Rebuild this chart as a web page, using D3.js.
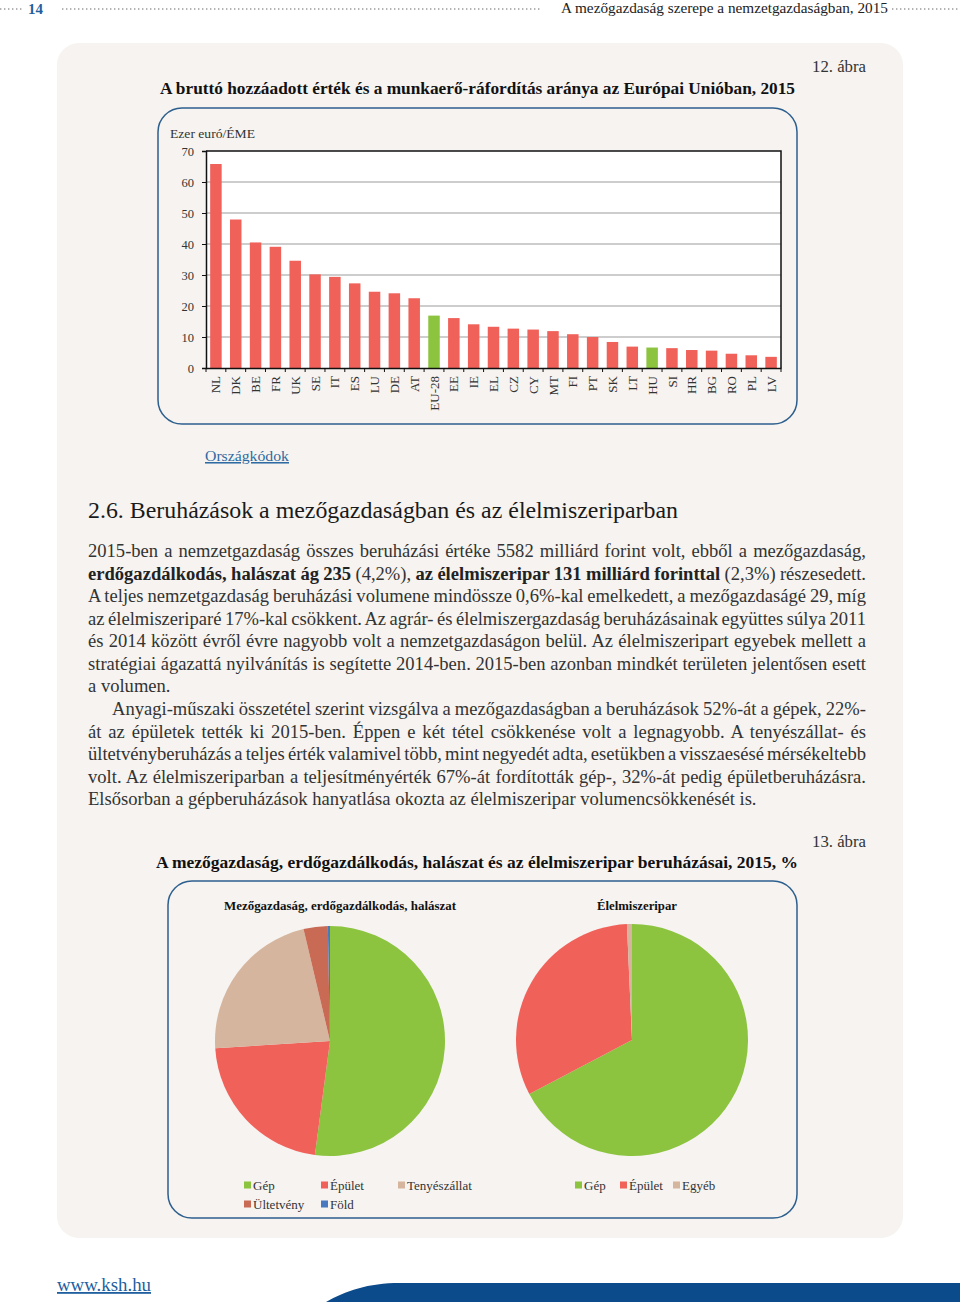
<!DOCTYPE html>
<html><head><meta charset="utf-8">
<script src="https://cdn.jsdelivr.net/npm/d3@7"></script>
<style>
html,body{margin:0;padding:0;background:#fff}
svg{display:block}
text{font-family:"Liberation Serif","Times New Roman",serif}
</style>
</head><body><div id="chart"></div>
<script>
// ---------- DATA ----------
const barCategories = ["NL","DK","BE","FR","UK","SE","IT","ES","LU","DE","AT","EU-28","EE","IE","EL","CZ","CY","MT","FI","PT","SK","LT","HU","SI","HR","BG","RO","PL","LV"];
const barValues = [65.8,47.9,40.5,39.1,34.6,30.2,29.4,27.3,24.6,24.1,22.5,16.9,16.1,14.1,13.3,12.7,12.4,11.9,10.9,10.0,8.4,6.9,6.6,6.4,5.8,5.6,4.6,4.1,3.6];
const barHighlight = ["EU-28","HU"];
const yTickValues = [0,10,20,30,40,50,60,70];
const pieLeftLabels = ["Gép","Épület","Tenyészállat","Ültetvény","Föld"];
const pieLeftValues = [52.1,21.9,22.3,3.4,0.3];
const pieRightLabels = ["Gép","Épület","Egyéb"];
const pieRightValues = [67.3,32.0,0.7];

const colors = {"Gép":"#8cc43f","Épület":"#f0615a","Tenyészállat":"#d5b59d","Ültetvény":"#c96a55","Föld":"#4878c0","Egyéb":"#d5b59d"};
const barColor = "#f0615a", barHiColor = "#8cc43f";

const W = 960, H = 1308;
const svg = d3.select("#chart").append("svg").attr("width", W).attr("height", H);
svg.append("rect").attr("width", W).attr("height", H).attr("fill", "#fff");
svg.append("rect").attr("x", 57).attr("y", 43).attr("width", 846).attr("height", 1195).attr("rx", 22).attr("fill", "#f6f3f0");

function fit(sel, len) { return sel.attr("textLength", len).attr("lengthAdjust", "spacingAndGlyphs"); }
function dots(x1, x2, y) {
  svg.append("line").attr("x1", x1).attr("x2", x2).attr("y1", y).attr("y2", y)
    .attr("stroke", "#9a9a9a").attr("stroke-width", 1.6).attr("stroke-dasharray", "1.4,2.6");
}

// ---------- HEADER ----------
dots(0, 24, 9); dots(62, 540, 9); dots(892, 960, 9);
svg.append("text").attr("x", 28).attr("y", 14).attr("font-size", 15).attr("font-weight", "bold").attr("fill", "#1f5f9f").text("14");
fit(svg.append("text").attr("x", 561).attr("y", 13).attr("font-size", 14.5).attr("fill", "#222")
  .text("A mezőgazdaság szerepe a nemzetgazdaságban, 2015"), 327);

// ---------- FIGURE 12 ----------
fit(svg.append("text").attr("x", 812).attr("y", 72).attr("font-size", 16).attr("fill", "#333").text("12. ábra"), 54);
fit(svg.append("text").attr("x", 160).attr("y", 94).attr("font-size", 17.5).attr("font-weight", "bold").attr("fill", "#111")
  .text("A bruttó hozzáadott érték és a munkaerő-ráfordítás aránya az Európai Unióban, 2015"), 635);

svg.append("rect").attr("x", 158).attr("y", 108).attr("width", 639).attr("height", 316).attr("rx", 24)
  .attr("fill", "none").attr("stroke", "#2c5f8d").attr("stroke-width", 1.5);

const pL = 206, pR = 781, pT = 151, pB = 368;
fit(svg.append("text").attr("x", 170).attr("y", 138).attr("font-size", 12.5).attr("fill", "#333").text("Ezer euró/ÉME"), 85);

const x = d3.scaleBand().domain(barCategories).range([pL, pR]).paddingInner(0.42).paddingOuter(0.21);
const y = d3.scaleLinear().domain([0, 70]).range([pB, pT]);

svg.append("rect").attr("x", pL).attr("y", pT).attr("width", pR - pL).attr("height", pB - pT).attr("fill", "#fff");
svg.append("g").selectAll("line").data(yTickValues.filter(v => v > 0 && v < 70)).join("line")
  .attr("x1", pL).attr("x2", pR).attr("y1", d => y(d)).attr("y2", d => y(d))
  .attr("stroke", "#bdbdbd").attr("stroke-width", 1.5);
svg.append("path").attr("d", `M${pL},${pT}H${pR}V${pB}`).attr("fill", "none").attr("stroke", "#111").attr("stroke-width", 1.5);

svg.append("g").selectAll("rect").data(barCategories).join("rect")
  .attr("x", d => x(d)).attr("width", x.bandwidth())
  .attr("y", (d, i) => y(barValues[i])).attr("height", (d, i) => pB - y(barValues[i]))
  .attr("fill", d => barHighlight.includes(d) ? barHiColor : barColor);

const yAxis = svg.append("g").attr("transform", `translate(${pL},0)`)
  .call(d3.axisLeft(y).tickValues(yTickValues).tickSize(4).tickPadding(8).tickFormat(d3.format("d")));
yAxis.select(".domain").attr("stroke", "#111").attr("stroke-width", 1.5);
yAxis.selectAll(".tick line").attr("stroke", "#111");
yAxis.selectAll("text").attr("font-family", "Liberation Serif").attr("font-size", 12.5).attr("fill", "#333");

const xAxis = svg.append("g").attr("transform", `translate(0,${pB})`)
  .call(d3.axisBottom(x).tickSize(0).tickPadding(0));
xAxis.select(".domain").attr("stroke", "#111").attr("stroke-width", 1.5);
xAxis.selectAll("text").attr("font-family", "Liberation Serif").attr("font-size", 13).attr("fill", "#333")
  .attr("transform", "rotate(-90)").attr("text-anchor", "end").attr("x", -8).attr("y", 0).attr("dy", "0.35em");
const step = x.step();
svg.append("g").selectAll("line").data(d3.range(barCategories.length + 1)).join("line")
  .attr("x1", i => pL + i * step).attr("x2", i => pL + i * step).attr("y1", pB).attr("y2", pB + 4)
  .attr("stroke", "#111");

const link = svg.append("text").attr("x", 205).attr("y", 461).attr("font-size", 15.5).attr("fill", "#2f6ba3")
  .attr("text-decoration", "underline").text("Országkódok");
fit(link, 84);

// ---------- SECTION TEXT ----------
fit(svg.append("text").attr("x", 88).attr("y", 518).attr("font-size", 22.5).attr("fill", "#1a1a1a")
  .text("2.6. Beruházások a mezőgazdaságban és az élelmiszeriparban"), 590);

const paraLines = [
  {segs: [["2015-ben a nemzetgazdaság összes beruházási értéke 5582 milliárd forint volt, ebből a mezőgazdaság,", 0]], j: 1},
  {segs: [["erdőgazdálkodás, halászat ág 235", 1], [" (4,2%), ", 0], ["az élelmiszeripar 131 milliárd forinttal", 1], [" (2,3%) részesedett.", 0]], j: 1},
  {segs: [["A teljes nemzetgazdaság beruházási volumene mindössze 0,6%-kal emelkedett, a mezőgazdaságé 29, míg", 0]], j: 1},
  {segs: [["az élelmiszeriparé 17%-kal csökkent. Az agrár- és élelmiszergazdaság beruházásainak együttes súlya 2011", 0]], j: 1},
  {segs: [["és 2014 között évről évre nagyobb volt a nemzetgazdaságon belül. Az élelmiszeripart egyebek mellett a", 0]], j: 1},
  {segs: [["stratégiai ágazattá nyilvánítás is segítette 2014-ben. 2015-ben azonban mindkét területen jelentősen esett", 0]], j: 1},
  {segs: [["a volumen.", 0]], j: 0},
  {segs: [["Anyagi-műszaki összetétel szerint vizsgálva a mezőgazdaságban a beruházások 52%-át a gépek, 22%-", 0]], j: 1, indent: 24},
  {segs: [["át az épületek tették ki 2015-ben. Éppen e két tétel csökkenése volt a legnagyobb. A tenyészállat- és", 0]], j: 1},
  {segs: [["ültetvényberuházás a teljes érték valamivel több, mint negyedét adta, esetükben a visszaesésé mérsékeltebb", 0]], j: 1},
  {segs: [["volt. Az élelmiszeriparban a teljesítményérték 67%-át fordították gép-, 32%-át pedig épületberuházásra.", 0]], j: 1},
  {segs: [["Elsősorban a gépberuházások hanyatlása okozta az élelmiszeripar volumencsökkenését is.", 0]], j: 0}
];
const probe = svg.append("text").attr("font-size", 16).text(paraLines[11].segs[0][0]);
const probeW = probe.node().getComputedTextLength(); probe.remove();
const bodySize = 16 * 669 / probeW;
const x0 = 88, xr = 866, y0 = 557, lh = 22.57;
paraLines.forEach((ln, i) => {
  const lx = x0 + (ln.indent || 0);
  const t = svg.append("text").attr("x", lx).attr("y", y0 + i * lh).attr("font-size", bodySize)
    .attr("fill", "#333").style("white-space", "pre");
  ln.segs.forEach(s => t.append("tspan").attr("font-weight", s[1] ? "bold" : null).attr("fill", s[1] ? "#222" : null).text(s[0]));
  if (ln.j) {
    const w = t.node().getComputedTextLength();
    const n = ln.segs.map(s => s[0]).join("").split(" ").length - 1;
    t.style("word-spacing", ((xr - lx - w) / n) + "px");
  }
});

// ---------- FIGURE 13 ----------
fit(svg.append("text").attr("x", 812).attr("y", 847).attr("font-size", 16).attr("fill", "#333").text("13. ábra"), 54);
fit(svg.append("text").attr("x", 156).attr("y", 868).attr("font-size", 17.5).attr("font-weight", "bold").attr("fill", "#111")
  .text("A mezőgazdaság, erdőgazdálkodás, halászat és az élelmiszeripar beruházásai, 2015, %"), 642);

svg.append("rect").attr("x", 168).attr("y", 881).attr("width", 629).attr("height", 337).attr("rx", 24)
  .attr("fill", "none").attr("stroke", "#2c5f8d").attr("stroke-width", 1.5);

fit(svg.append("text").attr("x", 340).attr("y", 910).attr("text-anchor", "middle").attr("font-size", 13.5).attr("font-weight", "bold").attr("fill", "#111")
  .text("Mezőgazdaság, erdőgazdálkodás, halászat"), 232);
fit(svg.append("text").attr("x", 637).attr("y", 910).attr("text-anchor", "middle").attr("font-size", 13.5).attr("font-weight", "bold").attr("fill", "#111")
  .text("Élelmiszeripar"), 80);

const pie = d3.pie().sort(null).value(d => d);
function drawPie(cx, cy, r, labels, values) {
  const arc = d3.arc().innerRadius(0).outerRadius(r);
  svg.append("g").attr("transform", `translate(${cx},${cy})`)
    .selectAll("path").data(pie(values)).join("path")
    .attr("d", arc).attr("fill", (d, i) => colors[labels[i]]);
}
drawPie(330, 1041, 115, pieLeftLabels, pieLeftValues);
drawPie(632, 1040, 116, pieRightLabels, pieRightValues);

function legendItem(label, tx, cy) {
  svg.append("rect").attr("x", tx - 9).attr("y", cy - 3.5).attr("width", 7).attr("height", 7).attr("fill", colors[label]);
  svg.append("text").attr("x", tx).attr("y", cy + 4.5).attr("font-size", 13).attr("fill", "#333").text(label);
}
const legLeftPos = [[253, 1185], [330, 1185], [407, 1185], [253, 1204], [330, 1204]];
pieLeftLabels.forEach((l, i) => legendItem(l, legLeftPos[i][0], legLeftPos[i][1]));
const legRightPos = [[584, 1185], [629, 1185], [682, 1185]];
pieRightLabels.forEach((l, i) => legendItem(l, legRightPos[i][0], legRightPos[i][1]));

// ---------- FOOTER ----------
fit(svg.append("text").attr("x", 57).attr("y", 1291).attr("font-size", 18).attr("fill", "#1f5f9f")
  .attr("text-decoration", "underline").text("www.ksh.hu"), 94);
svg.append("path").attr("d", "M326,1302 C345,1291 368,1283 400,1283 L960,1283 L960,1302 Z").attr("fill", "#0b4a8b");
</script>
</body></html>
